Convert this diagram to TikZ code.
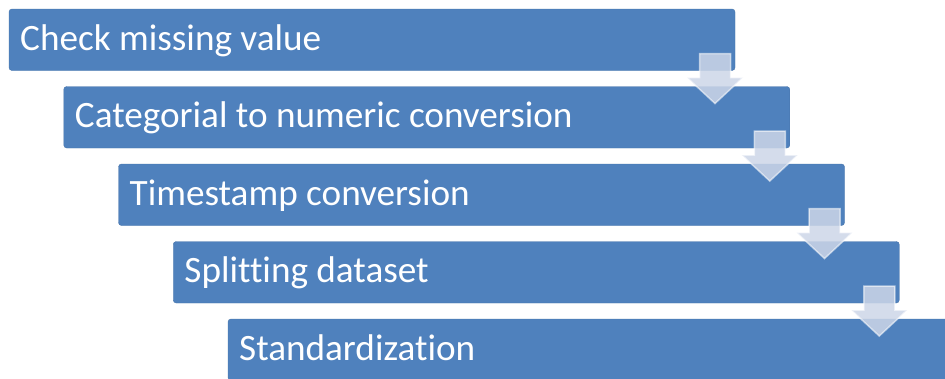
\documentclass[tikz,border=0pt]{standalone}
\usepackage{fontspec}
\setmainfont[Ligatures=NoCommon]{Carlito}
\definecolor{stepblue}{RGB}{79,129,189}
\definecolor{arrowfill}{RGB}{205,214,232}
\begin{document}
\begin{tikzpicture}[x=1pt,y=-1pt,
  stepbox/.style={fill=stepblue, draw=stepblue!90!black, line width=0.4pt, rounded corners=3pt},
  steptext/.style={anchor=base west, text=white, inner sep=0pt, font=\fontsize{37.2}{42}\selectfont},
  downarrow/.style={fill=arrowfill, fill opacity=0.85, draw=white, draw opacity=0.55, line width=1.5pt, line join=miter}
]
\useasboundingbox (0,0) rectangle (945,378);
\clip (0,0) rectangle (945,378);
% five stacked process steps
\foreach \i/\t in {0/Check missing value,1/Categorial to numeric conversion,2/Timestamp conversion,3/Splitting dataset,4/Standardization}{
  \pgfmathsetmacro{\xl}{9+54.75*\i}
  \pgfmathsetmacro{\yt}{9+77.5*\i}
  \draw[stepbox] (\xl,\yt) rectangle ++(726,61.5) coordinate (b\i);
  \node[steptext] (t\i) at (\xl+11,\yt+41) {\t};
}
% connecting down arrows between consecutive steps
\foreach \i in {0,1,2,3}{
  \pgfmathsetmacro{\cx}{715+54.75*\i}
  \pgfmathsetmacro{\yb}{70.5+77.5*\i}
  \draw[downarrow] (\cx-15.5,\yb-17) -- (\cx+15.5,\yb-17) -- (\cx+15.5,\yb+7) -- (\cx+28,\yb+7)
     -- (\cx,\yb+33) -- (\cx-28,\yb+7) -- (\cx-15.5,\yb+7) -- cycle;
}
\end{tikzpicture}
\end{document}
